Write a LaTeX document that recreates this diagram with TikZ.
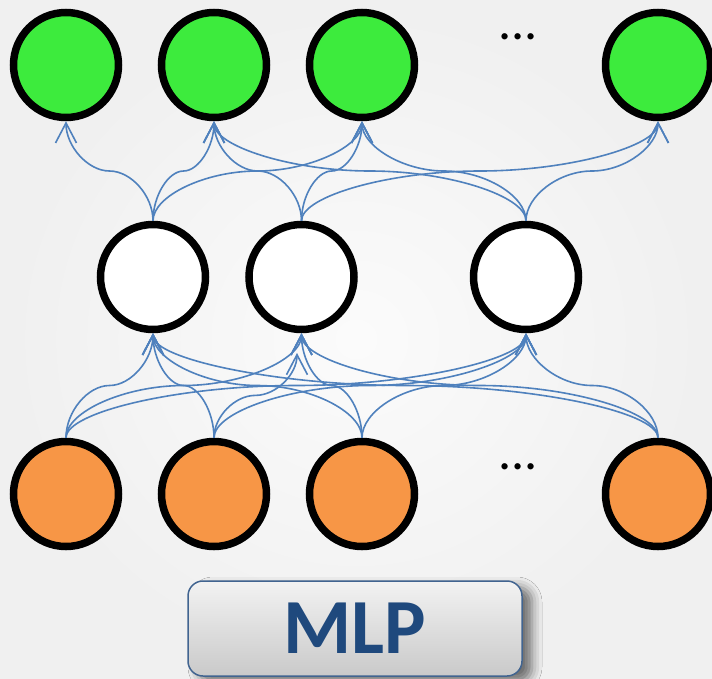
\documentclass[tikz,border=0pt]{standalone}
\usepackage{fontspec}
\setmainfont{Carlito}
\usepackage{xcolor}
\usetikzlibrary{arrows.meta,calc,shadows.blur}
\definecolor{outgreen}{HTML}{3DEB3D}
\definecolor{inorange}{HTML}{F79646}
\definecolor{linkblue}{HTML}{4F81BD}
\definecolor{mlpblue}{HTML}{1F497D}
\tikzset{elbow/.style={to path={
  let \p1=(\tikztostart), \p2=(\tikztotarget) in
  .. controls (\x1,{(3*\y1+\y2)/4}) and ({(3*\x1+\x2)/4},{(\y1+\y2)/2}) .. ({(\x1+\x2)/2},{(\y1+\y2)/2})
  .. controls ({(\x1+3*\x2)/4},{(\y1+\y2)/2}) and (\x2,{(\y1+3*\y2)/4}) .. (\tikztotarget) \tikztonodes}}}
\tikzstyle{unit} = [circle, draw=black, line width=7.5pt, minimum size=105pt, inner sep=0pt]
\tikzstyle{link} = [draw=linkblue, line width=1.6pt, -{Straight Barb[length=20pt,width=21pt]}, elbow]
\tikzstyle{dots} = [font=\fontsize{52}{52}\selectfont, inner sep=0pt]
\tikzstyle{mlpbox} = [draw=mlpblue!85, line width=1.5pt, rounded corners=15pt,
  top color=gray!10, bottom color=gray!42, minimum width=334pt, minimum height=95pt,
  text=mlpblue, font=\fontsize{78}{78}\selectfont\bfseries,
  blur shadow={shadow xshift=10pt, shadow yshift=-6pt, shadow blur radius=10pt, shadow opacity=55}]

\begin{document}
\begin{tikzpicture}[x=1pt, y=-1pt]
  % background
  \shade [inner color=gray!3, outer color=gray!12] (0,0) rectangle (712,678);
  \useasboundingbox (0,0) rectangle (712,678);

  % output layer
  \node [unit, fill=outgreen] (out1) at (66,65) {};
  \node [unit, fill=outgreen] (out2) at (214,65) {};
  \node [unit, fill=outgreen] (out3) at (362,65) {};
  \node [dots] (outdots) at (518,37) {...};
  \node [unit, fill=outgreen] (out4) at (658,65) {};

  % hidden layer
  \node [unit, fill=white] (hid1) at (153,277) {};
  \node [unit, fill=white] (hid2) at (301.5,277) {};
  \node [unit, fill=white] (hid3) at (526,277) {};

  % input layer
  \node [unit, fill=inorange] (in1) at (66,494) {};
  \node [unit, fill=inorange] (in2) at (214,494) {};
  \node [unit, fill=inorange] (in3) at (362,494) {};
  \node [dots] (indots) at (518,467) {...};
  \node [unit, fill=inorange] (in4) at (658,494) {};

  % short arrow that stops below hid2
  \coordinate (stub) at (297,353);

  % input -> hidden
  \draw [link] (in1.north) to (hid1.south);
  \draw [link] (in1.north) to (hid2.south);
  \draw [link] (in1.north) to (hid3.south);
  \draw [link] (in2.north) to (hid1.south);
  \draw [link] (in2.north) to (stub);
  \draw [link] (in2.north) to (hid3.south);
  \draw [link] (in3.north) to (hid1.south);
  \draw [link] (in3.north) to (hid2.south);
  \draw [link] (in3.north) to (hid3.south);
  \draw [link] (in4.north) to (hid1.south);
  \draw [link] (in4.north) to (hid2.south);
  \draw [link] (in4.north) to (hid3.south);

  % hidden -> output
  \draw [link] (hid1.north) to (out1.south);
  \draw [link] (hid1.north) to (out2.south);
  \draw [link] (hid1.north) to (out3.south);
  \draw [link] (hid2.north) to (out2.south);
  \draw [link] (hid2.north) to (out3.south);
  \draw [link] (hid2.north) to (out4.south);
  \draw [link] (hid3.north) to (out2.south);
  \draw [link] (hid3.north) to (out3.south);
  \draw [link] (hid3.north) to (out4.south);

  % label box
  \node [mlpbox] (mlp) at (355,628.5) {MLP};
\end{tikzpicture}
\end{document}
